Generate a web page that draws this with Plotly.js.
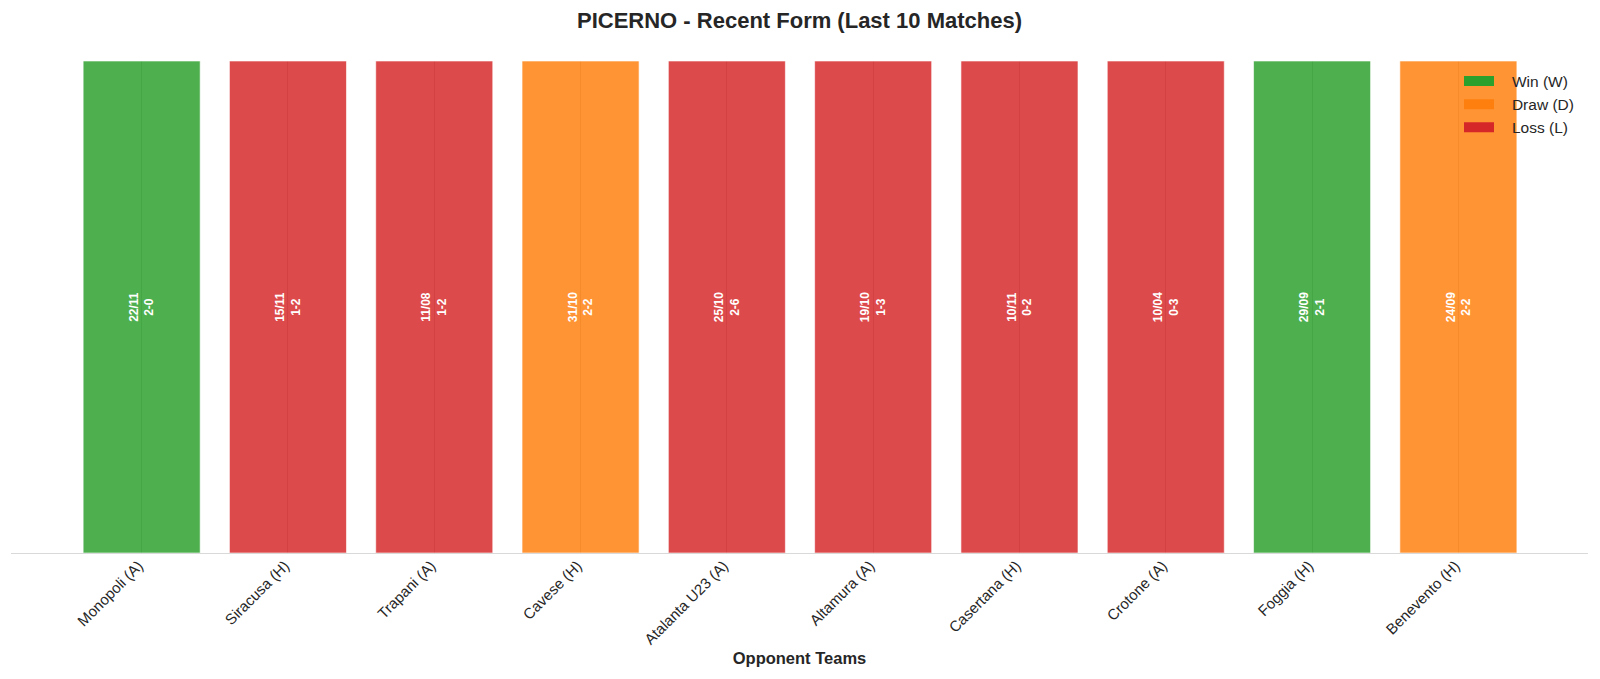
<!DOCTYPE html>
<html>
<head>
<meta charset="utf-8">
<script src="https://cdn.plot.ly/plotly-3.0.1.min.js"></script>
<style>
  html, body { margin: 0; padding: 0; background: #fff; width: 1600px; height: 679px; overflow: hidden; }
  #chart { width: 1600px; height: 679px; display: block; }
</style>
</head>
<body>
<div id="chart"></div>
<script>
// last 10 matches, most recent first
const opponents = ['Monopoli (A)', 'Siracusa (H)', 'Trapani (A)', 'Cavese (H)', 'Atalanta U23 (A)',
                   'Altamura (A)', 'Casertana (H)', 'Crotone (A)', 'Foggia (H)', 'Benevento (H)'];
const dates = ['22/11', '15/11', '11/08', '31/10', '25/10', '19/10', '10/11', '10/04', '29/09', '24/09'];
const scores = ['2-0', '1-2', '1-2', '2-2', '2-6', '1-3', '0-2', '0-3', '2-1', '2-2'];
const results = ['W', 'L', 'L', 'D', 'L', 'L', 'L', 'L', 'W', 'D'];
const heights = [1, 1, 1, 1, 1, 1, 1, 1, 1, 1];

const resultOrder = ['W', 'D', 'L'];
const resultNames = { W: 'Win (W)', D: 'Draw (D)', L: 'Loss (L)' };
const resultColors = { W: '#2ca02c', D: '#ff7f0e', L: '#d62728' };
const barAlpha = 0.84;

const FONT = 'Liberation Sans, Arial, sans-serif';

function rgba(hex, a) {
    let n = parseInt(hex.slice(1), 16);
    return `rgba(${(n >> 16) & 255},${(n >> 8) & 255},${n & 255},${a})`;
}

// one bar trace per result type
let barTraces = resultOrder.map(r => {
    let idx = results.map((v, i) => v === r ? i : -1).filter(i => i >= 0);
    return {
        type: 'bar',
        name: resultNames[r],
        x: idx,
        y: idx.map(i => heights[i]),
        width: 0.8,
        text: idx.map(i => dates[i] + '<br>' + scores[i]),
        textposition: 'inside',
        insidetextanchor: 'middle',
        textangle: -90,
        textfont: { family: FONT, size: 12, color: '#ffffff', weight: 'bold' },
        marker: {
            color: rgba(resultColors[r], barAlpha),
            line: { color: 'rgba(255,255,255,0.6)', width: 1 }
        },
        showlegend: false,
        hoverinfo: 'skip'
    };
});

// legend keys drawn as solid patches (nbsp pads the gap to the label)
let legendTraces = resultOrder.map(r => ({
    type: 'scatter',
    mode: 'lines',
    name: '\u00a0\u00a0\u00a0' + resultNames[r],
    x: [null],
    y: [null],
    line: { color: resultColors[r], width: 11 },
    hoverinfo: 'skip'
}));

let layout = {
    width: 1600,
    height: 679,
    paper_bgcolor: '#ffffff',
    plot_bgcolor: '#ffffff',
    font: { family: FONT, color: '#262626' },
    margin: { l: 11, r: 12, t: 61, b: 126 },
    barmode: 'overlay',
    title: {
        text: '<b>PICERNO - Recent Form (Last 10 Matches)</b>',
        font: { family: FONT, size: 22, color: '#262626' },
        x: 0.5, xanchor: 'center', xref: 'paper',
        y: 0.9705, yanchor: 'middle'
    },
    xaxis: {
        range: [-0.893, 9.886],
        tickmode: 'array',
        tickvals: opponents.map((_, i) => i),
        ticktext: opponents,
        tickangle: -45,
        tickfont: { family: FONT, size: 15, color: '#262626' },
        ticks: '',
        ticklabelstandoff: -3,
        ticklabelshift: -3,
        showgrid: true,
        gridcolor: '#c8c8c8',
        gridwidth: 1,
        zeroline: false,
        showline: true,
        linecolor: '#d9d9d9',
        linewidth: 1.2,
        automargin: false,
        title: {
            text: '<b>Opponent Teams</b>',
            font: { family: FONT, size: 16.5, color: '#262626' },
            standoff: 6
        }
    },
    yaxis: {
        range: [0, 1],
        showgrid: false,
        zeroline: false,
        showline: false,
        showticklabels: false,
        ticks: ''
    },
    legend: {
        x: 0.9182, xanchor: 'left',
        y: 0.993, yanchor: 'top',
        bgcolor: 'rgba(255,255,255,0)',
        font: { family: FONT, size: 15.5, color: '#262626' },
        traceorder: 'normal',
        itemwidth: 30,
        tracegroupgap: 0
    },
    showlegend: true
};

Plotly.newPlot('chart', barTraces.concat(legendTraces), layout, { displayModeBar: false, staticPlot: true });
</script>
</body>
</html>
